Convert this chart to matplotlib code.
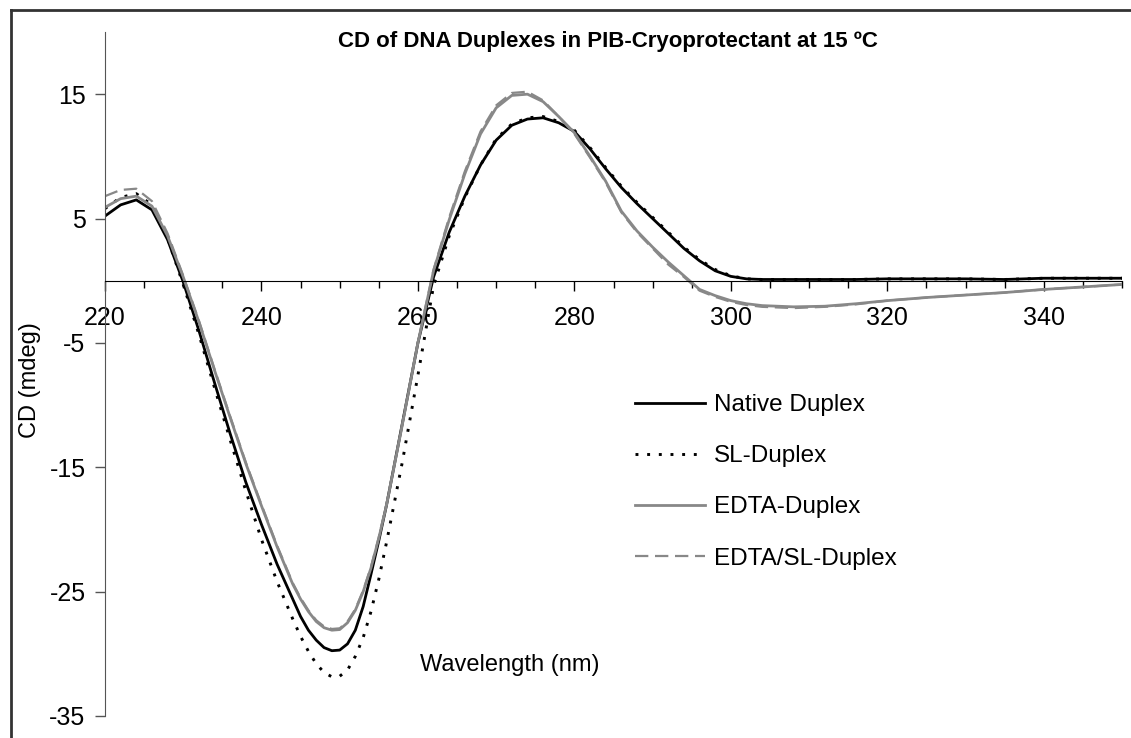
import matplotlib
matplotlib.use("Agg")
import matplotlib.pyplot as plt
from matplotlib.lines import Line2D
from matplotlib.ticker import MultipleLocator

plt.rcParams['font.family'] = ['Liberation Sans', 'DejaVu Sans']
plt.rcParams['axes.unicode_minus'] = False

# wavelength grid (nm), finer around the trough
wl = [220, 222, 224, 226, 228, 230, 232, 234, 236, 238, 240, 242,
      244, 245, 246, 247, 248, 249, 250, 251, 252, 253, 254, 255, 256,
      258, 260, 262, 264, 266, 268, 270, 272, 274, 276, 278, 280, 282,
      284, 286, 288, 290, 292, 294, 296, 298, 300,
      302, 304, 308, 312, 316, 320, 325, 330, 335, 340, 345, 350]

native = [5.2, 6.1, 6.5, 5.7, 3.3, -0.1, -4.0, -8.2, -12.3, -16.2, -19.6, -22.8,
          -25.6, -27.0, -28.1, -28.9, -29.5, -29.75, -29.7, -29.2, -28.1, -26.2, -23.6, -20.9, -18.0,
          -11.5, -5.0, 0.3, 3.9, 6.8, 9.3, 11.3, 12.5, 13.0, 13.1, 12.7, 12.0, 10.6,
          9.0, 7.5, 6.2, 5.0, 3.8, 2.6, 1.6, 0.8, 0.35,
          0.15, 0.1, 0.1, 0.1, 0.1, 0.15, 0.15, 0.15, 0.1, 0.2, 0.2, 0.2]

sl = [5.8, 6.7, 7.0, 6.1, 3.4, -0.3, -4.3, -8.6, -12.8, -16.9, -20.8, -24.2,
      -27.2, -28.6, -29.8, -30.8, -31.5, -31.85, -31.8, -31.3, -30.2, -28.7, -26.6, -24.0, -21.0,
      -14.6, -7.6, -0.4, 3.6, 6.7, 9.3, 11.4, 12.6, 13.1, 13.2, 12.8, 12.1, 10.7,
      9.1, 7.6, 6.3, 5.1, 3.9, 2.7, 1.7, 0.9, 0.4,
      0.15, 0.1, 0.1, 0.1, 0.1, 0.15, 0.15, 0.15, 0.1, 0.2, 0.2, 0.2]

edta = [5.9, 6.6, 6.8, 6.0, 3.6, 0.3, -3.3, -7.2, -11.0, -14.7, -18.1, -21.4,
        -24.4, -25.6, -26.6, -27.4, -27.9, -28.1, -28.05, -27.5, -26.5, -25.0, -23.1, -20.7, -18.0,
        -11.6, -5.0, 0.8, 4.9, 8.6, 11.8, 13.9, 14.9, 15.0, 14.4, 13.2, 11.9, 10.0,
        8.0, 5.6, 4.0, 2.7, 1.5, 0.4, -0.7, -1.2, -1.6,
        -1.85, -2.0, -2.1, -2.05, -1.85, -1.6, -1.35, -1.15, -0.95, -0.7, -0.5, -0.3]

edta_sl = [6.8, 7.3, 7.4, 6.4, 3.8, 0.4, -3.2, -7.1, -10.9, -14.6, -18.0, -21.3,
           -24.3, -25.5, -26.5, -27.3, -27.8, -28.0, -27.95, -27.4, -26.4, -24.9, -23.0, -20.6, -17.9,
           -11.5, -4.9, 0.9, 5.1, 8.8, 12.0, 14.1, 15.1, 15.2, 14.5, 13.2, 11.8, 9.9,
           7.9, 5.5, 3.9, 2.6, 1.3, 0.3, -0.8, -1.3, -1.7,
           -1.95, -2.1, -2.2, -2.1, -1.9, -1.6, -1.35, -1.15, -0.95, -0.7, -0.5, -0.3]

labels = ["Native Duplex", "SL-Duplex", "EDTA-Duplex", "EDTA/SL-Duplex"]
xticks = [220, 240, 260, 280, 300, 320, 340]
yticks = [15, 5, -5, -15, -25, -35]

W, H = 1131, 738
fig = plt.figure(figsize=(W / 100, H / 100), dpi=100)
ax = fig.add_axes([105 / W, 1 - 716 / H, (1122 - 105) / W, (716 - 32) / H])

gray = "#888888"
ax.plot(wl, native, color="black", lw=2, label=labels[0])
ax.plot(wl, sl, color="black", lw=2.1, ls=(0, (1, 3.0)), label=labels[1])
ax.plot(wl, edta, color=gray, lw=2, label=labels[2])
ax.plot(wl, edta_sl, color=gray, lw=1.6, ls=(0, (6, 3)), label=labels[3])

ax.set_xlim(220, 350)
ax.set_ylim(-35, 20)
ax.set_yticks(yticks)
ax.set_xticks(xticks)
ax.xaxis.set_minor_locator(MultipleLocator(5))

ax.spines['top'].set_visible(False)
ax.spines['right'].set_visible(False)
ax.spines['bottom'].set_position(('data', 0))
ax.spines['bottom'].set_color("black")
ax.spines['left'].set_color("#555555")
ax.tick_params(axis='y', direction='out', length=7, width=1, color="#555555",
               labelsize=18, pad=7)
ax.tick_params(axis='x', which='major', direction='out', length=7, width=1,
               labelsize=18, pad=11)
ax.tick_params(axis='x', which='minor', direction='out', length=5, width=1)

ax.legend(loc='upper left',
          bbox_to_anchor=((635 - 105) / (1122 - 105), 1 - (394 - 32) / (716 - 32)),
          frameon=False, fontsize=17.5, handlelength=2.9, handletextpad=0.35,
          labelspacing=1.2, borderaxespad=0, borderpad=0)

fig.text(878 / W, 1 - 41 / H, "CD of DNA Duplexes in PIB-Cryoprotectant at 15 ºC",
         ha='right', va='center', fontsize=16, fontweight='bold')
fig.text(510 / W, 1 - 665 / H, "Wavelength (nm)", ha='center', va='center', fontsize=17)
fig.text(30 / W, 1 - 380 / H, "CD (mdeg)", ha='center', va='center', fontsize=17, rotation=90)

# chart border (left and top edges visible, rest cropped)
fig.add_artist(Line2D([11 / W, 11 / W], [0, 1 - 10 / H], color="#333333", lw=2,
                      transform=fig.transFigure))
fig.add_artist(Line2D([11 / W, 1], [1 - 10 / H, 1 - 10 / H], color="#333333", lw=2,
                      transform=fig.transFigure))

fig.savefig("out.png", dpi=100)
